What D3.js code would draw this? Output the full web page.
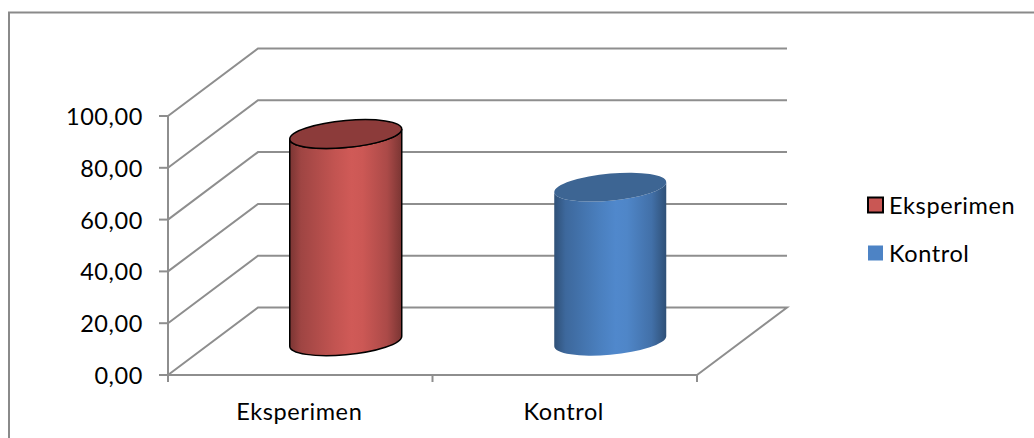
<!DOCTYPE html>
<html>
<head>
<meta charset="utf-8">
<script src="https://cdn.jsdelivr.net/npm/d3@7"></script>
<style>
html,body{margin:0;padding:0;background:#fff}
svg{display:block}
text{font-family:Lato,"Open Sans",sans-serif;font-size:23.5px;letter-spacing:0.6px;fill:#000}
</style>
</head>
<body>
<svg id="chart" width="1034" height="438"></svg>
<script>
const categories = ["Eksperimen", "Kontrol"];
const values = [80, 59.5];
const tickValues = [0, 20, 40, 60, 80, 100];
const fills = ["#d05a57", "#5088cc"];
const capFills = ["#8c3b3a", "#3d6593"];
const formatTick = v => v.toFixed(2).replace(".", ",");

const svg = d3.select("#chart");
const defs = svg.append("defs");

// Chart frame, open at the right and bottom page edges
svg.append("rect").attr("x", 9).attr("y", 12.5).attr("width", 1040).attr("height", 440)
  .attr("fill", "#fff").attr("stroke", "#8a8a8a").attr("stroke-width", 2);

// Front plane scales; the back wall is the same plane shifted by the depth offset
const x = d3.scaleBand().domain(categories).range([168, 697]).paddingInner(0).paddingOuter(0);
const y = d3.scaleLinear().domain([0, 100]).range([375, 116]);
const depth = { dx: 90, dy: -67.5 };
const gridColor = "#8e8e8e";

const grid = svg.append("g").attr("fill", "none").attr("stroke", gridColor).attr("stroke-width", 2);

// Gridlines wrap from the left wall onto the back wall
tickValues.forEach(v => {
  const y0 = y(v);
  if (v > 0) {
    grid.append("path").attr("d", d3.line()([
      [x.range()[0], y0],
      [x.range()[0] + depth.dx, y0 + depth.dy],
      [x.range()[1] + depth.dx, y0 + depth.dy]
    ]));
  }
});
// Floor outline
grid.append("path").attr("d", d3.line()([
  [x.range()[0], y(0)],
  [x.range()[0] + depth.dx, y(0) + depth.dy],
  [x.range()[1] + depth.dx, y(0) + depth.dy],
  [x.range()[1], y(0)]
]));

// Value axis with outward ticks
const axis = svg.append("g").attr("fill", "none").attr("stroke", gridColor).attr("stroke-width", 2);
axis.append("path").attr("d", d3.line()([[x.range()[0], y(100)], [x.range()[0], y(0) + 7]]));
tickValues.forEach(v => {
  axis.append("path").attr("d", d3.line()([[x.range()[0] - 9, y(v)], [x.range()[0], y(v)]]));
});
svg.append("g").selectAll("text").data(tickValues).join("text")
  .attr("x", 143).attr("y", d => y(d) + 0.5).attr("dy", "0.36em")
  .attr("text-anchor", "end").text(formatTick);

// Category axis with its ticks between the groups
axis.append("path").attr("d", d3.line()([[x.range()[0], y(0)], [x.range()[1], y(0)]]));
[...categories.map(c => x(c)), x.range()[1]].forEach(px => {
  axis.append("path").attr("d", d3.line()([[px, y(0)], [px, y(0) + 7]]));
});
svg.append("g").selectAll("text").data(categories).join("text")
  .attr("x", d => x(d) + x.bandwidth() / 2 - (d === categories[0] ? 1 : 1)).attr("y", 420)
  .attr("text-anchor", "middle").text(d => d);

// Cylinders: tilted elliptical caps seen from above
const capA = 56.2, capB = 13.5, capTilt = -5.4, jointX = 56, jointY = 5;

function addGradient(id, color) {
  const g = defs.append("linearGradient").attr("id", id);
  [[0, 1.5], [0.1, 0.75], [0.4, 0.2], [0.55, 0], [0.65, 0.05], [0.87, 0.55], [1, 1.5]].forEach(([o, k]) => {
    g.append("stop").attr("offset", o).attr("stop-color", d3.color(color).darker(k).formatHex());
  });
}

const bars = svg.append("g").selectAll("g").data(categories).join("g");
bars.each(function (c, i) {
  const g = d3.select(this);
  const cx = x(c) + x.bandwidth() / 2 + depth.dx / 2 + 0.5;
  const base = y(0) + depth.dy / 2;
  const top = y(values[i]) + depth.dy / 2;
  const id = "cyl" + i;
  addGradient(id, fills[i]);
  const stroke = i === 0 ? "#000" : "none";
  const arc = (x1, y1, sweep) => `A${capA} ${capB} ${capTilt} 1 ${sweep} ${x1} ${y1}`;
  const L = yc => [cx - jointX, yc + jointY];
  const R = yc => [cx + jointX, yc - jointY];
  g.append("path")
    .attr("d", `M${L(top)}L${L(base)}${arc(...R(base), 0)}L${R(top)}${arc(...L(top), 1)}Z`)
    .attr("fill", `url(#${id})`).attr("stroke", stroke).attr("stroke-width", 1.5);
  g.append("path")
    .attr("d", `M${L(top)}${arc(...R(top), 1)}${arc(...L(top), 1)}Z`)
    .attr("fill", capFills[i]).attr("stroke", stroke).attr("stroke-width", 1.5);
});

// Legend
const legend = svg.append("g").selectAll("g").data(categories).join("g")
  .attr("transform", (d, i) => `translate(868,${205 + i * 48})`);
legend.append("rect").attr("x", 0).attr("y", -7.5).attr("width", 15).attr("height", 15)
  .attr("fill", (d, i) => d3.color(fills[i]).darker(0.1).formatHex())
  .attr("stroke", (d, i) => i === 0 ? "#000" : "none").attr("stroke-width", 2);
legend.append("text").attr("x", 21).attr("y", 0.5).attr("dy", "0.36em").text(d => d);
</script>
</body>
</html>
